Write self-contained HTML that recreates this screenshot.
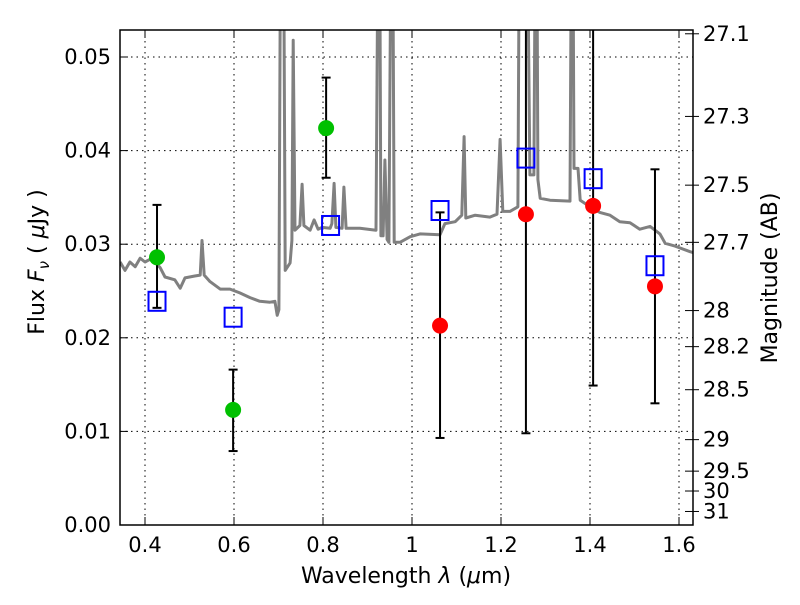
<!DOCTYPE html>
<html><head><meta charset="utf-8"><style>
body{margin:0;background:#fff;}
svg text{font-family:"DejaVu Sans","Liberation Sans",sans-serif;fill:#000;}
</style></head><body>
<svg id="chart" width="800" height="600" xmlns="http://www.w3.org/2000/svg">
<defs><clipPath id="clip"><rect x="120" y="30" width="573" height="495"/></clipPath></defs>
<rect x="0" y="0" width="800" height="600" fill="#fff"/>
<g id="grid"></g>
<g id="spec" clip-path="url(#clip)"></g>
<g id="marks" clip-path="url(#clip)"></g>
<rect x="120" y="30" width="573" height="495" fill="none" stroke="#000" stroke-width="1.5"/>
<g id="axes"></g>
<text x="406" y="583" font-size="22" text-anchor="middle">Wavelength  <tspan font-style="italic">λ</tspan> (<tspan font-style="italic">μ</tspan>m)</text>
<text transform="translate(44,262) rotate(-90)" font-size="22" text-anchor="middle">Flux  <tspan font-style="italic">F</tspan><tspan font-style="italic" font-size="15" dy="5">ν</tspan><tspan dy="-5">  ( </tspan><tspan font-style="italic">μ</tspan>Jy )</text>
<text transform="translate(777,278) rotate(-90)" font-size="22" text-anchor="middle">Magnitude (AB)</text>
</svg>
<script>
const specX=[0.344,0.355,0.366,0.378,0.389,0.4,0.416,0.434,0.445,0.467,0.479,0.49,0.512,0.524,0.528,0.533,0.546,0.569,0.591,0.613,0.636,0.658,0.681,0.692,0.697,0.701,0.706,0.71,0.715,0.726,0.73,0.733,0.737,0.748,0.753,0.757,0.771,0.78,0.789,0.798,0.816,0.82,0.825,0.829,0.843,0.847,0.852,0.883,0.919,0.926,0.93,0.935,0.939,0.944,0.948,0.955,0.96,0.973,0.996,1.018,1.063,1.074,1.097,1.112,1.117,1.121,1.142,1.175,1.191,1.198,1.204,1.22,1.238,1.243,1.249,1.256,1.265,1.274,1.279,1.283,1.288,1.31,1.355,1.36,1.364,1.373,1.378,1.4,1.422,1.445,1.467,1.49,1.512,1.535,1.557,1.569,1.591,1.625,1.64];
const specY=[0.0281,0.0272,0.0281,0.0276,0.0285,0.0281,0.0285,0.0275,0.0265,0.0262,0.0253,0.0264,0.0266,0.0267,0.0304,0.0267,0.026,0.0252,0.0252,0.0248,0.0243,0.0239,0.0238,0.0239,0.0224,0.023,0.08,0.08,0.0272,0.028,0.0304,0.0518,0.0315,0.032,0.0364,0.032,0.0315,0.0326,0.0316,0.0318,0.0317,0.0322,0.0365,0.0318,0.0317,0.0361,0.0317,0.0317,0.0315,0.08,0.0309,0.0309,0.039,0.0305,0.0302,0.08,0.0302,0.0302,0.0308,0.0311,0.031,0.0322,0.0324,0.0331,0.0415,0.0328,0.0331,0.0329,0.0332,0.0412,0.0335,0.0335,0.034,0.08,0.08,0.08,0.0374,0.0374,0.08,0.0369,0.0349,0.0347,0.0346,0.08,0.0381,0.0381,0.0347,0.034,0.0334,0.0331,0.0324,0.0323,0.0316,0.0319,0.0311,0.0301,0.0298,0.0292,0.029];
const greenX=[0.427,0.598,0.807];
const greenY=[0.0286,0.0123,0.0424];
const greenLo=[0.0232,0.0079,0.0371];
const greenHi=[0.0342,0.0166,0.0478];
const redX=[1.063,1.256,1.407,1.546];
const redY=[0.0213,0.0332,0.0341,0.0255];
const redLo=[0.0093,0.0098,0.0149,0.013];
const redHi=[0.0334,0.08,0.08,0.038];
const boxX=[0.427,0.598,0.817,1.063,1.256,1.407,1.546];
const boxY=[0.0239,0.0222,0.032,0.0336,0.0392,0.037,0.0277];
const xTicks=[0.4,0.6,0.8,1,1.2,1.4,1.6];
const xTickLabels=["0.4","0.6","0.8","1","1.2","1.4","1.6"];
const yTicks=[0,0.01,0.02,0.03,0.04,0.05];
const yTickLabels=["0.00","0.01","0.02","0.03","0.04","0.05"];
const magTicks=[27.1,27.3,27.5,27.7,28,28.2,28.5,29,29.5,30,31];
const magTickLabels=["27.1","27.3","27.5","27.7","28","28.2","28.5","29","29.5","30","31"];

const NS="http://www.w3.org/2000/svg";
const X=v=>145+(v-0.4)*445;
const Y=v=>525-v*9360;
function mk(t,a,p){const e=document.createElementNS(NS,t);for(const k in a)e.setAttribute(k,a[k]);p.appendChild(e);return e;}
const grid=document.getElementById('grid'),axes=document.getElementById('axes'),spec=document.getElementById('spec'),marks=document.getElementById('marks');
xTicks.forEach((v,i)=>{
 const l=mk('line',{x1:X(v),x2:X(v),y1:30,y2:525,stroke:'#000','stroke-width':1,'stroke-dasharray':'1.5,4'},grid);
 
 
 mk('line',{x1:X(v),x2:X(v),y1:525,y2:517,stroke:'#000'},axes);
 mk('line',{x1:X(v),x2:X(v),y1:30,y2:38,stroke:'#000'},axes);
 const t=mk('text',{x:X(v),y:552,'font-size':21,'text-anchor':'middle'},axes);t.textContent=xTickLabels[i];
 
 
});
yTicks.forEach((v,i)=>{
 if(v>0){const l=mk('line',{x1:120,x2:693,y1:Y(v),y2:Y(v),stroke:'#000','stroke-width':1,'stroke-dasharray':'1.5,4'},grid);
 
 }
 mk('line',{x1:120,x2:128,y1:Y(v),y2:Y(v),stroke:'#000'},axes);
 const t=mk('text',{x:111,y:Y(v)+7,'font-size':21,'text-anchor':'end'},axes);t.textContent=yTickLabels[i];
 
 
});
magTicks.forEach((m,i)=>{
 const f=Math.pow(10,(23.9-m)/2.5);const y=Y(f);
 mk('line',{x1:693,x2:685,y1:y,y2:y,stroke:'#000'},axes);
 mk('line',{x1:693,x2:699,y1:y,y2:y,stroke:'#000'},axes);
 const t=mk('text',{x:703,y:y+7,'font-size':21},axes);t.textContent=magTickLabels[i];
 
 
});
const p=mk('path',{d:specX.map((v,i)=>(i?'L':'M')+X(v).toFixed(1)+','+Y(specY[i]).toFixed(1)).join(''),fill:'none',stroke:'#808080','stroke-width':3,'stroke-linejoin':'round'},spec);


function ebar(x,lo,hi){
 mk('line',{x1:X(x),x2:X(x),y1:Y(lo),y2:Y(hi),stroke:'#000','stroke-width':2},marks);
 mk('line',{x1:X(x)-4.5,x2:X(x)+4.5,y1:Y(lo),y2:Y(lo),stroke:'#000','stroke-width':2},marks);
 mk('line',{x1:X(x)-4.5,x2:X(x)+4.5,y1:Y(hi),y2:Y(hi),stroke:'#000','stroke-width':2},marks);
}
greenX.forEach((x,i)=>{ebar(x,greenLo[i],greenHi[i]);
 const c=mk('circle',{cx:X(x),cy:Y(greenY[i]),r:8,fill:'#00c000'},marks);
 
 });
redX.forEach((x,i)=>{ebar(x,redLo[i],redHi[i]);
 const c=mk('circle',{cx:X(x),cy:Y(redY[i]),r:8,fill:'#ff0000'},marks);
 
 });
boxX.forEach((x,i)=>{
 const r=mk('rect',{x:X(x)-8.5,y:Y(boxY[i])-9.5,width:17,height:19,fill:'none',stroke:'#0000ff','stroke-width':2},marks);
 
 });
</script>
</body></html>
